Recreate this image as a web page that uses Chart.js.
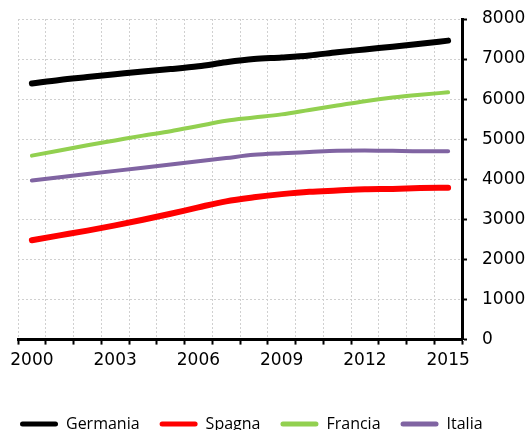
<!DOCTYPE html>
<html>
<head>
<meta charset="utf-8">
<script src="https://cdn.jsdelivr.net/npm/chart.js@4"></script>
<style>
  html, body { margin: 0; padding: 0; background: #fff; }
  #wrap { width: 529px; height: 430px; }
</style>
</head>
<body>
<div id="wrap"><canvas id="chartscreen"></canvas></div>
<script>
// years on the x axis
const years = ["2000", "2001", "2002", "2003", "2004", "2005", "2006", "2007",
               "2008", "2009", "2010", "2011", "2012", "2013", "2014", "2015"];

// values
const germania = [6390, 6480, 6550, 6620, 6690, 6750, 6820, 6920, 7000, 7040, 7090, 7170, 7240, 7310, 7380, 7460];
const spagna   = [2480, 2600, 2720, 2850, 2990, 3140, 3300, 3450, 3550, 3630, 3690, 3720, 3750, 3760, 3780, 3790];
const francia  = [4590, 4720, 4850, 4970, 5090, 5200, 5330, 5460, 5540, 5620, 5730, 5840, 5950, 6040, 6110, 6170];
const italia   = [3970, 4050, 4130, 4210, 4290, 4370, 4450, 4530, 4610, 4650, 4680, 4710, 4720, 4710, 4700, 4700];

const yTicks = [0, 1000, 2000, 3000, 4000, 5000, 6000, 7000, 8000];

function line(label, data, color, width) {
  return {
    label: label,
    data: data,
    yAxisID: 'y',
    borderColor: color,
    backgroundColor: color,
    borderWidth: width,
    borderCapStyle: 'round',
    pointRadius: 0,
    cubicInterpolationMode: 'monotone',
    fill: false
  };
}

// move legend down (excel puts it at the very bottom)
const legendShift = {
  id: 'legendShift',
  afterLayout(chart) {
    const dy = 19;
    chart.legend.top += dy;
    chart.legend.bottom += dy;
  }
};

const chart_canvas = document.getElementById('chartscreen');

new Chart(chart_canvas, {
  type: 'line',
  data: {
    labels: years,
    datasets: [
      line('Germania', germania, '#000000', 6),
      line('Spagna', spagna, '#ff0000', 6),
      line('Francia', francia, '#92d050', 4),
      line('Italia', italia, '#8064a2', 4)
    ]
  },
  plugins: [legendShift],
  options: {
    responsive: true,
    maintainAspectRatio: false,
    animation: false,
    layout: { padding: { top: 19, right: 0, bottom: 7, left: 0 } },
    plugins: {
      tooltip: { enabled: false },
      legend: {
        position: 'bottom',
        align: 'start',
        labels: {
          boxWidth: 38,
          boxHeight: 5,
          padding: 20,
          color: '#000',
          font: { family: "'Open Sans', sans-serif", size: 16 },
          generateLabels: function(chart) {
            const items = Chart.defaults.plugins.legend.labels.generateLabels(chart);
            items.forEach(function(it) {
              it.fillStyle = it.strokeStyle;
              it.lineWidth = 0;
              it.borderRadius = 2.5;
            });
            return items;
          }
        }
      }
    },
    scales: {
      x: {
        offset: true,
        grid: {
          offset: true,
          color: '#d0d0d0',
          lineWidth: 1,
          tickColor: '#000',
          tickWidth: 2,
          tickLength: 5,
          tickBorderDash: []
        },
        border: { color: '#000', width: 3, dash: [2, 2] },
        ticks: {
          autoSkip: false,
          maxRotation: 0,
          padding: 6,
          color: '#000',
          font: { family: "'DejaVu Sans', sans-serif", size: 17 },
          callback: function(val, idx) {
            return (idx % 3 == 0) ? years[idx] : '';
          }
        }
      },
      yLeft: {
        // empty axis, just keeps the 18px margin on the left
        position: 'left',
        grid: { display: false },
        border: { display: false },
        ticks: { display: false },
        afterFit: function(scale) { scale.width = 18; }
      },
      y: {
        position: 'right',
        min: 0,
        max: 8000,
        afterBuildTicks: function(scale) {
          scale.ticks = yTicks.map(function(v) { return { value: v }; });
        },
        afterFit: function(scale) {
          scale.width = 67;
          scale.paddingTop = 0;
          scale.paddingBottom = 0;
        },
        grid: {
          color: '#d0d0d0',
          lineWidth: 1,
          tickColor: '#000',
          tickWidth: 2,
          tickLength: 5,
          tickBorderDash: []
        },
        border: { color: '#000', width: 3, dash: [2, 2] },
        ticks: {
          padding: 15,
          color: '#000',
          font: { family: "'DejaVu Sans', sans-serif", size: 17 },
          callback: function(val) { return String(val); }
        }
      }
    }
  }
});
</script>
</body>
</html>
